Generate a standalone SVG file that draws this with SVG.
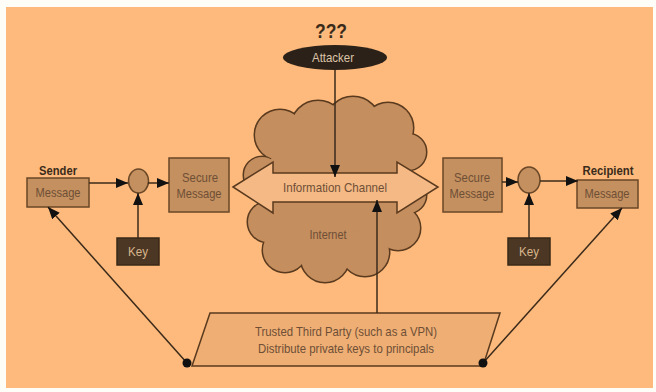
<svg xmlns="http://www.w3.org/2000/svg" width="656" height="392" viewBox="0 0 656 392">
<defs>
<marker id="ah" markerWidth="12" markerHeight="10" refX="12" refY="5" orient="auto" markerUnits="userSpaceOnUse">
<path d="M0,0 L12,5 L0,10 z" fill="#111"/>
</marker>
<style>
text{font-family:"Liberation Sans Narrow","Liberation Sans",Arial,sans-serif;text-anchor:middle}
.box{fill:#C4905F;stroke:#6A4727;stroke-width:1.5}
.key{fill:#4B3724;stroke:#3A2816;stroke-width:1.5}
.bt{font-size:13px;fill:#6E4F36}
.kt{font-size:13px;fill:#D9B58C}
.lbl{font-size:13px;font-weight:bold;fill:#3A2A1A}
.ln{stroke:#3B2A1A;stroke-width:1.5;fill:none}
.cl{fill:#C48E5F}
.clo{fill:none;stroke:#5A3A1E;stroke-width:3}
</style>
</defs>
<rect x="0" y="0" width="656" height="392" fill="#FFFDF8"/>
<rect x="6" y="7" width="647" height="381" fill="#FDBA7C"/>

<g id="cloud">
<g class="clo">
<circle cx="280" cy="135" r="25"/><circle cx="318" cy="128" r="27"/><circle cx="353" cy="124" r="27"/><circle cx="388" cy="128" r="25"/><circle cx="408" cy="152" r="18"/><circle cx="262" cy="175" r="18"/><circle cx="408" cy="195" r="18"/><ellipse cx="335" cy="190" rx="75" ry="60"/><circle cx="268" cy="222" r="20"/><circle cx="285" cy="250" r="22"/><circle cx="325" cy="258" r="24"/><circle cx="365" cy="252" r="24"/><circle cx="398" cy="228" r="22"/>
</g>
<g class="cl">
<circle cx="280" cy="135" r="25"/><circle cx="318" cy="128" r="27"/><circle cx="353" cy="124" r="27"/><circle cx="388" cy="128" r="25"/><circle cx="408" cy="152" r="18"/><circle cx="262" cy="175" r="18"/><circle cx="408" cy="195" r="18"/><ellipse cx="335" cy="190" rx="75" ry="60"/><circle cx="268" cy="222" r="20"/><circle cx="285" cy="250" r="22"/><circle cx="325" cy="258" r="24"/><circle cx="365" cy="252" r="24"/><circle cx="398" cy="228" r="22"/>
</g>
<text x="328" y="239" class="bt" textLength="37" lengthAdjust="spacingAndGlyphs">Internet</text>
</g>

<g id="channel">
<polygon points="233,187 273,162 273,173 397,173 397,162 438,187 397,213 397,202 273,202 273,213" fill="#F4B985" stroke="#5A3A1E" stroke-width="1.5"/>
<text x="335" y="192" class="bt" textLength="104" lengthAdjust="spacingAndGlyphs">Information Channel</text>
</g>

<g id="attacker">
<text x="331" y="38" font-size="20" font-weight="bold" fill="#3A2A1A" textLength="32" lengthAdjust="spacingAndGlyphs">???</text>
<ellipse cx="335" cy="57.5" rx="52" ry="12.5" fill="#2C2119"/>
<text x="333" y="62" font-size="13" fill="#DCC4A8" textLength="42" lengthAdjust="spacingAndGlyphs">Attacker</text>
</g>

<g id="sender">
<text x="58" y="175" class="lbl" textLength="38" lengthAdjust="spacingAndGlyphs">Sender</text>
<rect x="27" y="178" width="62" height="29" class="box"/>
<text x="58" y="197" class="bt" textLength="45" lengthAdjust="spacingAndGlyphs">Message</text>
</g>

<g id="enc">
<ellipse cx="138.5" cy="181" rx="10" ry="12" class="box"/>
</g>

<g id="secure1">
<rect x="169" y="158" width="60" height="54" class="box"/>
<text x="200" y="182" class="bt" textLength="36" lengthAdjust="spacingAndGlyphs">Secure</text>
<text x="199" y="198" class="bt" textLength="45" lengthAdjust="spacingAndGlyphs">Message</text>
</g>

<g id="key1">
<rect x="117" y="238" width="42" height="27" class="key"/>
<text x="138" y="256" class="kt" textLength="20" lengthAdjust="spacingAndGlyphs">Key</text>
</g>

<g id="secure2">
<rect x="443" y="158" width="59" height="54" class="box"/>
<text x="472" y="182" class="bt" textLength="36" lengthAdjust="spacingAndGlyphs">Secure</text>
<text x="472" y="198" class="bt" textLength="45" lengthAdjust="spacingAndGlyphs">Message</text>
</g>

<g id="dec">
<ellipse cx="529" cy="180" rx="11" ry="13" class="box"/>
</g>

<g id="key2">
<rect x="508" y="238" width="42" height="27" class="key"/>
<text x="529" y="256" class="kt" textLength="20" lengthAdjust="spacingAndGlyphs">Key</text>
</g>

<g id="recipient">
<text x="608" y="175" class="lbl" textLength="51" lengthAdjust="spacingAndGlyphs">Recipient</text>
<rect x="577" y="180" width="61" height="28" class="box"/>
<text x="607" y="198" class="bt" textLength="45" lengthAdjust="spacingAndGlyphs">Message</text>
</g>

<g id="ttp">
<polygon points="210,313 500,313 483,366 192,366" fill="#EEAE74" stroke="#5A3A1E" stroke-width="1.5"/>
<text x="346" y="336" class="bt" textLength="182" lengthAdjust="spacingAndGlyphs">Trusted Third Party (such as a VPN)</text>
<text x="346" y="353" class="bt" textLength="176" lengthAdjust="spacingAndGlyphs">Distribute private keys to principals</text>
</g>

<g id="connectors">
<line x1="89" y1="183" x2="128" y2="183" class="ln" marker-end="url(#ah)"/>
<line x1="148" y1="183" x2="169" y2="183" class="ln" marker-end="url(#ah)"/>
<line x1="138" y1="238" x2="138" y2="193" class="ln" marker-end="url(#ah)"/>
<line x1="502" y1="182" x2="518" y2="182" class="ln" marker-end="url(#ah)"/>
<line x1="540" y1="181" x2="578" y2="181" class="ln" marker-end="url(#ah)"/>
<line x1="529" y1="238" x2="529" y2="193" class="ln" marker-end="url(#ah)"/>
<line x1="335" y1="70" x2="335" y2="177" class="ln" marker-end="url(#ah)"/>
<line x1="377" y1="313" x2="377" y2="200" class="ln" marker-end="url(#ah)"/>
<line x1="187" y1="363" x2="48" y2="207" class="ln" marker-end="url(#ah)"/>
<line x1="483" y1="363" x2="622" y2="208" class="ln" marker-end="url(#ah)"/>
<circle cx="187" cy="363" r="4.5" fill="#111"/>
<circle cx="483" cy="363" r="4.5" fill="#111"/>
</g>
</svg>
